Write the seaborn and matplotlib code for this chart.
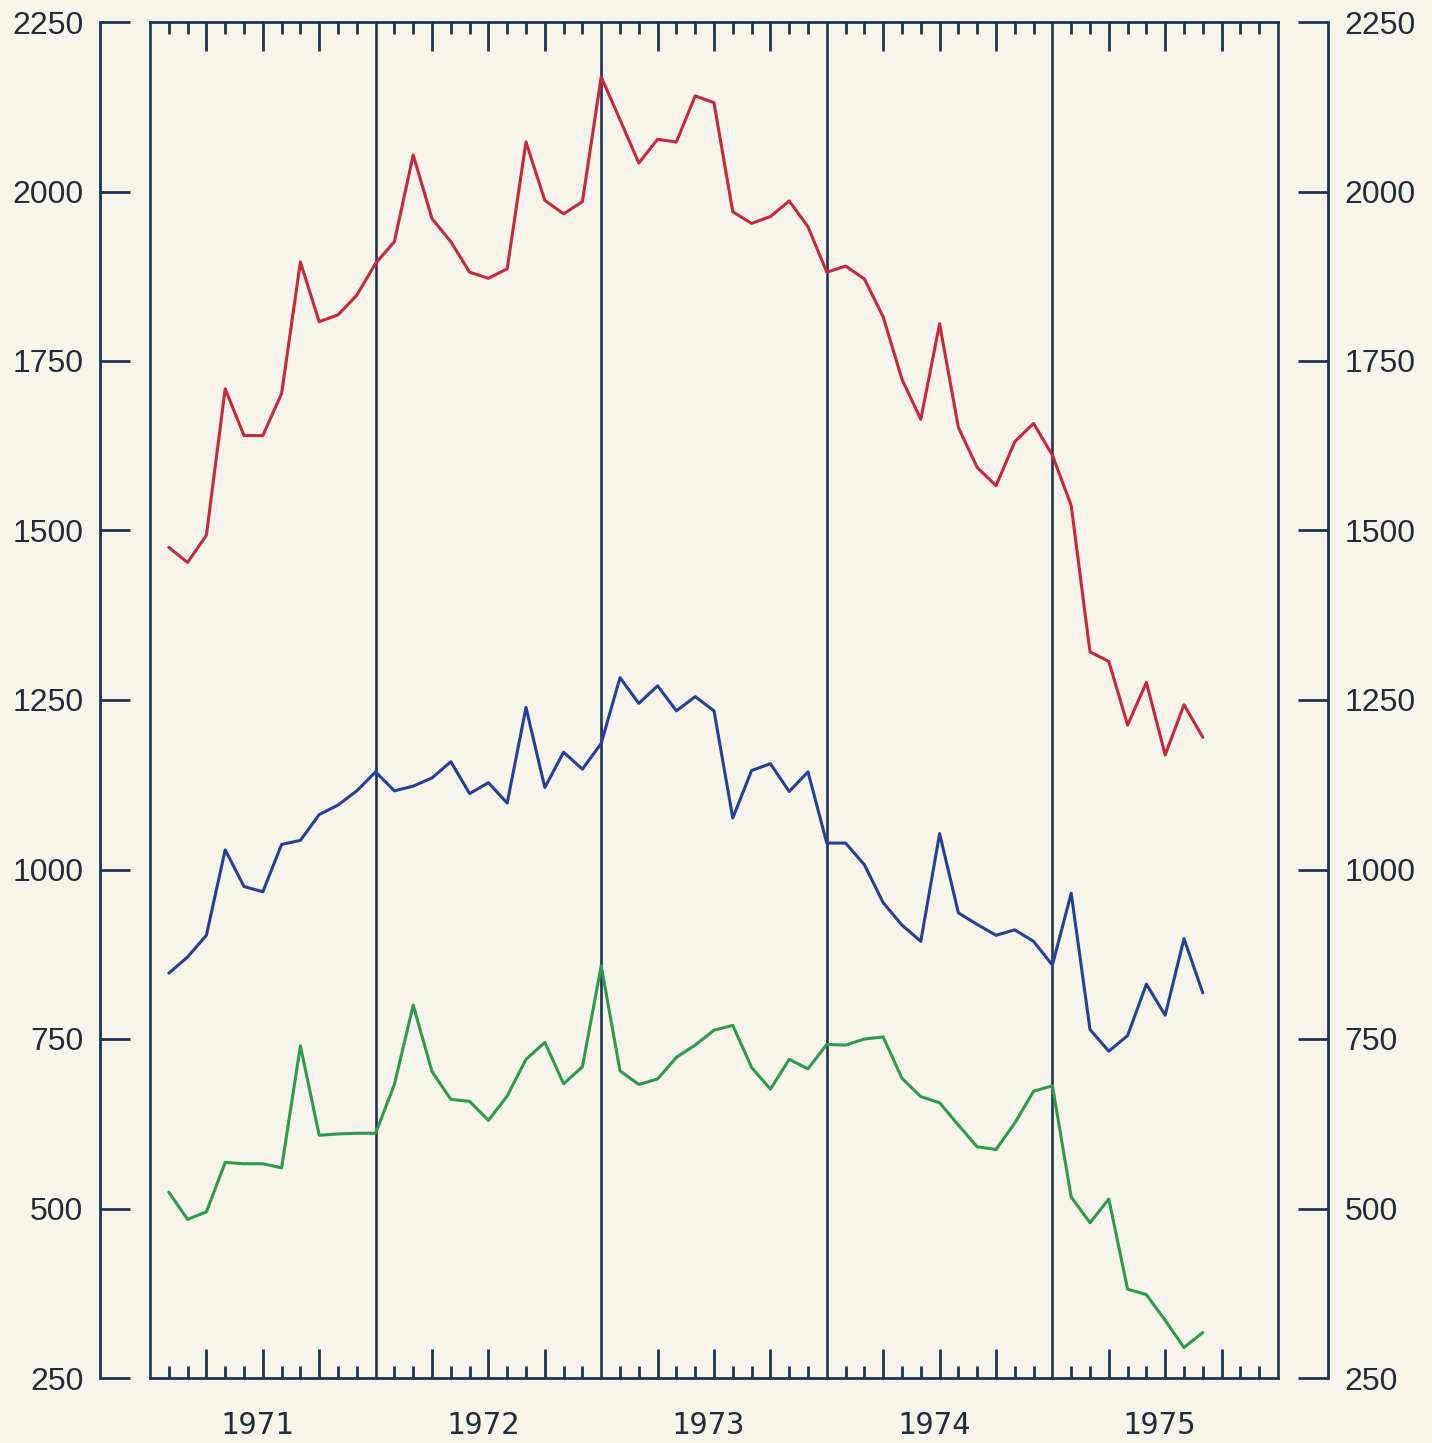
import numpy as np
import pandas as pd
import matplotlib
matplotlib.use('Agg')
import matplotlib.pyplot as plt
import seaborn as sns

# monthly series, Jan 1971 .. Aug 1975
months = list(range(1, 57))
red = [1475, 1453, 1493, 1709, 1640, 1640, 1702, 1896, 1808, 1818, 1847, 1894,
       1926, 2054, 1960, 1926, 1881, 1872, 1886, 2073, 1987, 1967, 1985, 2169,
       2106, 2042, 2077, 2073, 2141, 2131, 1970, 1953, 1963, 1986, 1948, 1881,
       1890, 1871, 1815, 1723, 1664, 1805, 1652, 1593, 1566, 1631, 1658, 1611,
       1537, 1321, 1307, 1213, 1276, 1169, 1243, 1195]
blue = [847, 871, 903, 1029, 975, 967, 1037, 1043, 1081, 1095, 1116, 1144,
        1116, 1123, 1135, 1159, 1112, 1128, 1098, 1239, 1121, 1173, 1148, 1186,
        1283, 1245, 1271, 1234, 1255, 1234, 1076, 1146, 1156, 1115, 1144, 1039,
        1039, 1007, 951, 918, 894, 1053, 936, 919, 903, 911, 894, 859,
        965, 764, 732, 755, 831, 785, 898, 818]
green = [524, 484, 495, 568, 566, 566, 560, 740, 608, 610, 611, 611,
         683, 800, 702, 661, 658, 630, 666, 720, 745, 684, 709, 858,
         703, 683, 691, 723, 741, 763, 770, 708, 676, 720, 706, 742,
         741, 750, 753, 692, 665, 656, 623, 591, 587, 626, 673, 681,
         517, 479, 514, 381, 373, 335, 295, 317]
years = ['1971', '1972', '1973', '1974', '1975']
y_ticks = [250, 500, 750, 1000, 1250, 1500, 1750, 2000, 2250]

paper = '#f6f4eb'
ink = '#1e3450'
text_ink = '#232c38'
colors = {'red': '#c8283a', 'blue': '#26409a', 'green': '#2f9a4a'}

df = pd.DataFrame({'month': months, 'red': red, 'blue': blue, 'green': green})
long = df.melt(id_vars='month', var_name='series', value_name='value')

sns.set_style('ticks')
plt.rcParams['font.family'] = ['Liberation Sans', 'DejaVu Sans']

fig = plt.figure(figsize=(14.32, 14.43), dpi=100, facecolor=paper)
ax = fig.add_axes([150 / 1432, 65 / 1443, 1128 / 1432, 1356 / 1443])
ax.set_facecolor(paper)

# 年份分隔线
for i in range(len(years) + 1):
    ax.axvline(12 * i, color=ink, lw=1.9, zorder=1, clip_on=False)

sns.lineplot(data=long, x='month', y='value', hue='series', palette=colors,
             linewidth=2.2, legend=False, ax=ax, zorder=3)

ax.set_xlim(0, 60)
ax.set_ylim(250, 2250)
ax.set_xlabel('')
ax.set_ylabel('')

for side in ['top', 'bottom', 'left', 'right']:
    ax.spines[side].set_color(ink)
    ax.spines[side].set_linewidth(2.0)
ax.spines['left'].set_position(('outward', 36))
ax.spines['right'].set_position(('outward', 36))

ax.set_yticks(y_ticks)
ax.tick_params(axis='y', direction='in', length=21.6, width=2.0, color=ink,
               left=True, right=True, labelleft=True, labelright=True,
               labelsize=23, labelcolor=text_ink, pad=12)

# 月刻度：季度长、月份短
ax.set_xticks([m for m in range(60) if m % 3 == 0 and m % 12 != 0])
ax.set_xticks([m for m in range(60) if m % 3 != 0], minor=True)
ax.tick_params(axis='x', which='major', direction='in', length=21, width=2.0,
               color=ink, top=True, bottom=True, labelbottom=False)
ax.tick_params(axis='x', which='minor', direction='in', length=8.6, width=2.0,
               color=ink, top=True, bottom=True)

for i, yr in enumerate(years):
    ax.text(12 * i + 5.7, -0.035, yr, transform=ax.get_xaxis_transform(),
            ha='center', va='center', fontsize=22, color=text_ink,
            family=['DejaVu Sans Mono'])

fig.savefig('out.png', dpi=100, facecolor=paper)
